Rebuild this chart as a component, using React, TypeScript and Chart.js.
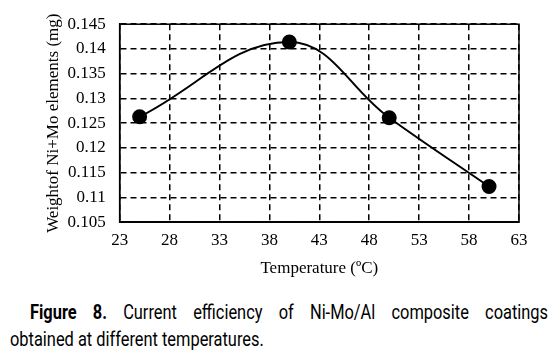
import React, { useEffect, useRef } from "react";
import { Chart, registerables } from "chart.js";

Chart.register(...registerables);

const temperatures = [25, 40, 50, 60];
const weights = [0.1263, 0.1414, 0.1261, 0.1122];
const xTitle = "Temperature (\u00BAC)";
const yTitle = "Weightof Ni+Mo elements (mg)";
const captionBold = "Figure 8.";
const captionLine1 = " Current efficiency of Ni-Mo/Al composite coatings";
const captionLine2 = "obtained at different temperatures.";

const frame = {
  id: "frame",
  afterDraw(chart: any) {
    const { ctx, chartArea } = chart;
    ctx.save();
    ctx.strokeStyle = "#000";
    ctx.lineWidth = 1.5;
    ctx.setLineDash([]);
    ctx.strokeRect(chartArea.left, chartArea.top, chartArea.right - chartArea.left, chartArea.bottom - chartArea.top);
    ctx.restore();
  },
};

export default function App() {
  const ref = useRef<HTMLCanvasElement>(null);
  useEffect(() => {
    const font = { family: "'Liberation Serif', 'Times New Roman', serif", size: 17 };
    const chart = new Chart(ref.current!, {
      type: "line",
      data: {
        datasets: [
          {
            data: temperatures.map((t, i) => ({ x: t, y: weights[i] })),
            borderColor: "#000",
            backgroundColor: "#000",
            borderWidth: 2,
            pointRadius: 6.5,
            pointBackgroundColor: "#000",
            pointBorderColor: "#000",
            tension: 0.4,
            cubicInterpolationMode: "default",
          },
        ],
      },
      options: {
        animation: false,
        responsive: false,
        maintainAspectRatio: false,
        layout: { padding: { top: 12, right: 34, left: 43, bottom: 6 } },
        plugins: { legend: { display: false }, tooltip: { enabled: false } },
        scales: {
          x: {
            type: "linear",
            min: 23,
            max: 63,
            ticks: { stepSize: 5, color: "#000", font, padding: 8 },
            grid: { color: "#000", lineWidth: 1.5, drawTicks: false },
            border: { display: true, color: "#000", width: 1.5, dash: [6, 4] },
            title: { display: true, text: xTitle, color: "#000", font, padding: { top: 0, bottom: 0 } },
          },
          y: {
            type: "linear",
            min: 0.105,
            max: 0.145,
            ticks: {
              stepSize: 0.005,
              color: "#000",
              font,
              padding: 14,
              callback: (v: any) => String(parseFloat(Number(v).toFixed(3))),
            },
            grid: { color: "#000", lineWidth: 1.5, drawTicks: false },
            border: { display: true, color: "#000", width: 1.5, dash: [6, 4] },
            title: { display: true, text: yTitle, color: "#000", font, padding: { top: 0, bottom: -10 } },
          },
        },
      },
      plugins: [frame],
    } as any);
    return () => chart.destroy();
  }, []);

  const capFont = "Roboto, 'Noto Sans', sans-serif";
  const k = 0.82;
  return (
    <div style={{ position: "fixed", left: 0, top: 0, width: 553, height: 357, background: "#fff" }}>
      <canvas ref={ref} width={553} height={285} style={{ display: "block", width: 553, height: 285 }} />
      <div
        style={{
          position: "absolute",
          left: 10,
          top: 299,
          width: 538 / k,
          transform: `scaleX(${k})`,
          transformOrigin: "0 0",
          fontFamily: capFont,
          fontSize: 20,
          lineHeight: "27px",
          color: "#000",
        }}
      >
        <div style={{ textAlign: "justify", textAlignLast: "justify", textIndent: 20 / k }}>
          <b>{captionBold}</b>
          {captionLine1}
        </div>
        <div>{captionLine2}</div>
      </div>
    </div>
  );
}
